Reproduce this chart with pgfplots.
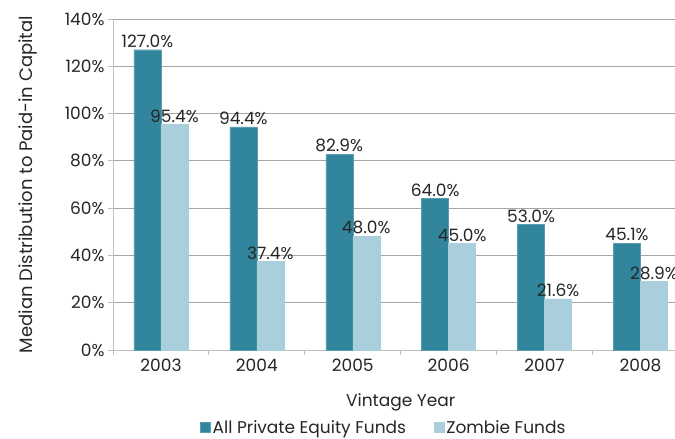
\documentclass[border=0pt]{standalone}
\usepackage{fontspec}
\setmainfont{Poppins}
\usepackage{pgfplots}
\pgfplotsset{compat=1.18}
\definecolor{pedark}{HTML}{31859C}
\definecolor{zomblight}{HTML}{A9CFDC}
\definecolor{gridgray}{HTML}{A6A6A6}
\definecolor{axgray}{HTML}{BFBFBF}
\definecolor{txt}{HTML}{262626}
\newcommand{\chartfont}{\fontsize{17bp}{19bp}\selectfont}
\begin{document}
\begin{tikzpicture}
\useasboundingbox (-113bp,-89bp) rectangle (562bp,350bp);
\begin{axis}[
    at={(0,0)}, anchor=south west,
    scale only axis, width=562bp, height=331bp,
    ybar=0pt, bar width=27bp,
    xmin=-0.5, xmax=5.36, ymin=0, ymax=140,
    axis x line*=bottom, axis y line*=left,
    axis line style={axgray, line width=1pt, -},
    xtick={0,1,2,3,4,5},
    xticklabels={2003,2004,2005,2006,2007,2008},
    major x tick style={draw=none},
    minor xtick={-0.5,0.5,1.5,2.5,3.5,4.5},
    minor x tick style={axgray, line width=1pt},
    ytick={0,20,...,140},
    yticklabel={\pgfmathprintnumber{\tick}\%},
    y tick style={axgray, line width=1pt},
    tick align=outside, major tick length=5bp, minor tick length=5bp,
    ymajorgrids, grid style={gridgray, line width=0.8pt},
    /pgf/number format/assume math mode=true,
    tick label style={font=\chartfont, text=txt},
    xlabel={Vintage Year}, ylabel={Median Distribution to Paid-in Capital},
    label style={font=\chartfont, text=txt},
    ylabel style={font=\fontsize{18bp}{20bp}\selectfont},
    xlabel style={at={(axis description cs:0.512,-0.157)}, anchor=center},
    ylabel style={at={(axis description cs:-0.151,0.5)}, anchor=center},
    nodes near coords={\pgfmathprintnumber[fixed,fixed zerofill,precision=1]{\pgfplotspointmeta}\%},
    nodes near coords style={font=\chartfont, text=txt, anchor=south, inner sep=2bp},
    legend style={at={(axis description cs:0.482,-0.236)}, anchor=center,
        draw=none, font=\chartfont, text=txt, legend columns=2,
        /tikz/every even column/.append style={column sep=26bp}},
    legend image code/.code={\fill[#1] (0bp,-4.5bp) rectangle (10bp,5.5bp);},
]
\addplot[fill=pedark, draw=pedark!80!white] coordinates {
    (0,127.0) (1,94.4) (2,82.9) (3,64.0) (4,53.0) (5,45.1)};
\addplot[fill=zomblight, draw=zomblight] coordinates {
    (0,95.4) (1,37.4) (2,48.0) (3,45.0) (4,21.6) (5,28.9)};
\legend{All Private Equity Funds, Zombie Funds}
\end{axis}
\end{tikzpicture}
\end{document}
